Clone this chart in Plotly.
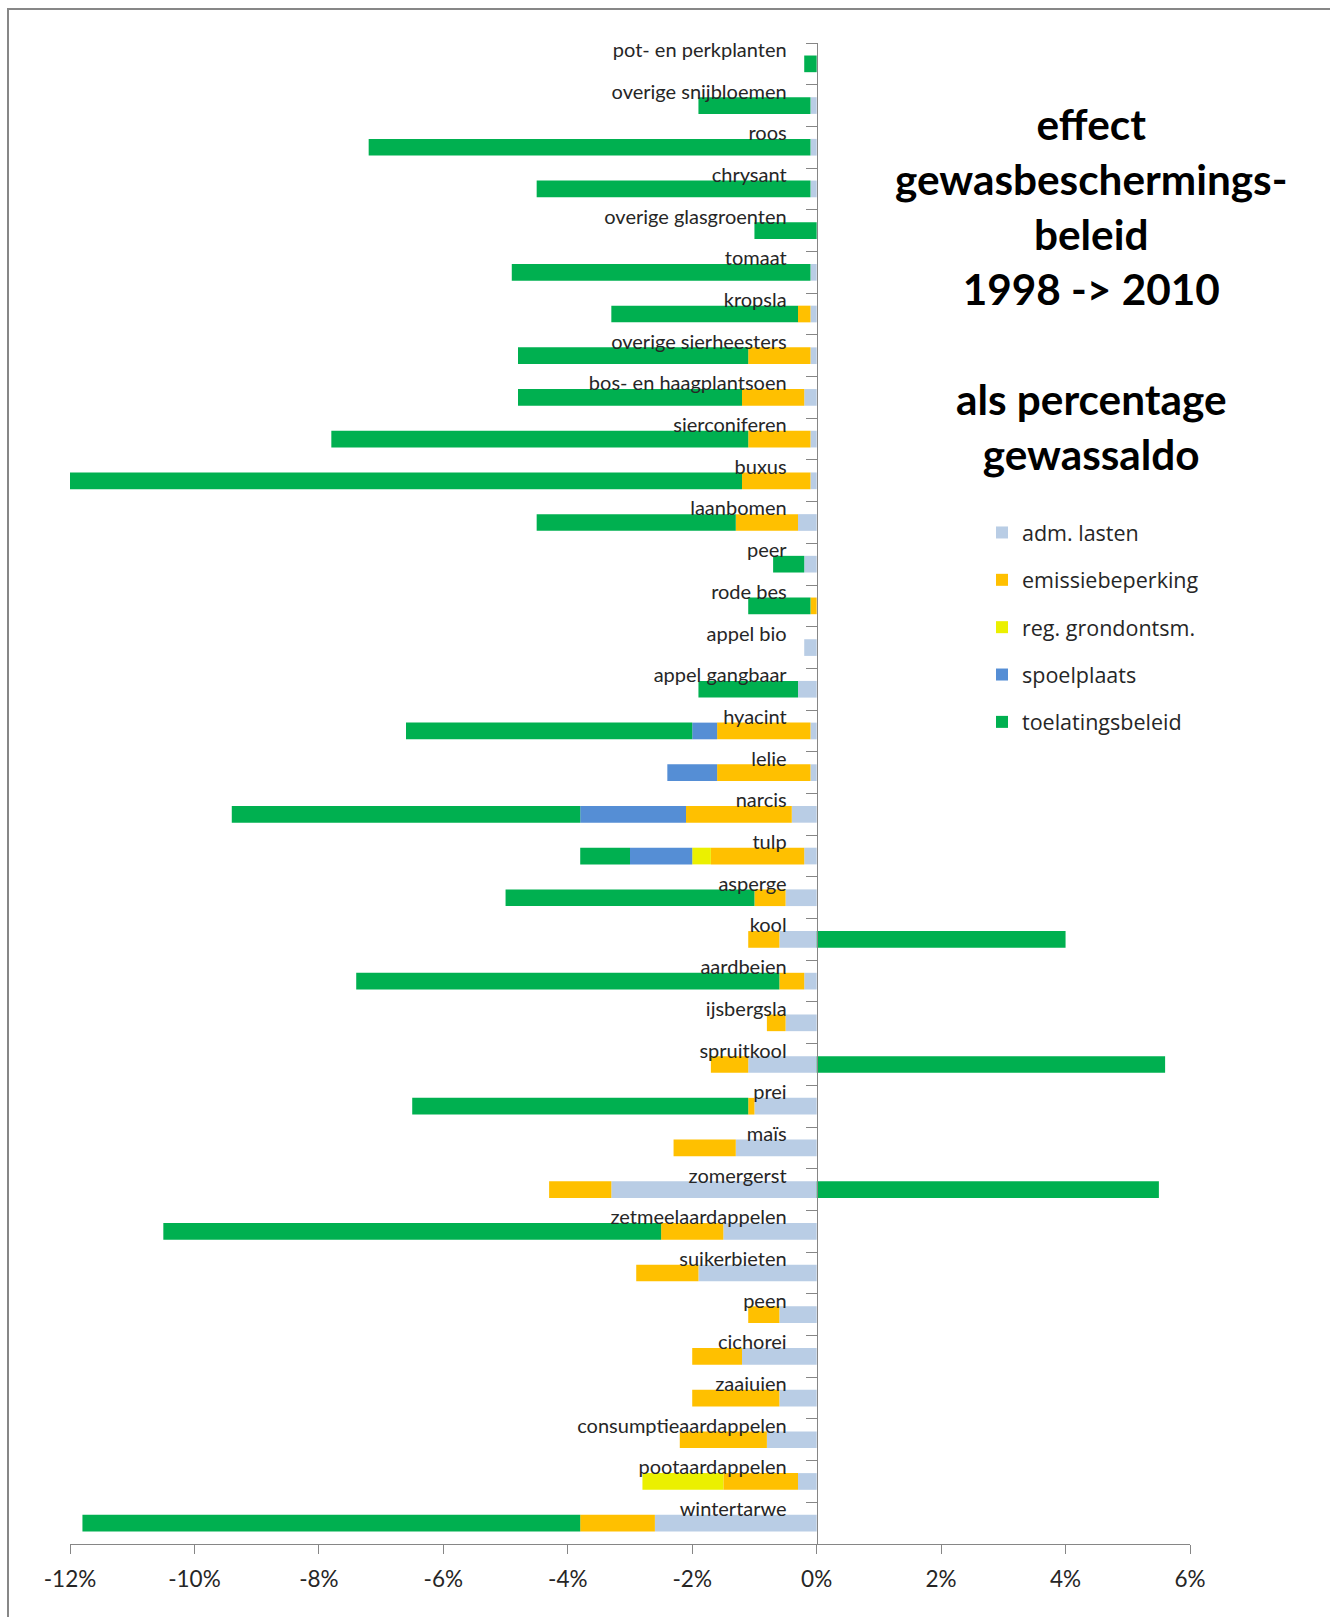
import plotly.graph_objects as go

# Gewassen, van boven naar beneden
gewassen = [
    "pot- en perkplanten", "overige snijbloemen", "roos", "chrysant",
    "overige glasgroenten", "tomaat", "kropsla", "overige sierheesters",
    "bos- en haagplantsoen", "sierconiferen", "buxus", "laanbomen", "peer",
    "rode bes", "appel bio", "appel gangbaar", "hyacint", "lelie", "narcis",
    "tulp", "asperge", "kool", "aardbeien", "ijsbergsla", "spruitkool", "prei",
    "maïs", "zomergerst", "zetmeelaardappelen", "suikerbieten", "peen",
    "cichorei", "zaaiuien", "consumptieaardappelen", "pootaardappelen",
    "wintertarwe",
]

# Effect per beleidsonderdeel, in % van het gewassaldo
adm_lasten = [
    0.0, -0.1, -0.1, -0.1, 0.0, -0.1, -0.1, -0.1, -0.2, -0.1, -0.1, -0.3, -0.2,
    0.0, -0.2, -0.3, -0.1, -0.1, -0.4, -0.2, -0.5, -0.6, -0.2, -0.5, -1.1, -1.0,
    -1.3, -3.3, -1.5, -1.9, -0.6, -1.2, -0.6, -0.8, -0.3, -2.6,
]
emissiebeperking = [
    0.0, 0.0, 0.0, 0.0, 0.0, 0.0, -0.2, -1.0, -1.0, -1.0, -1.1, -1.0, 0.0,
    -0.1, 0.0, 0.0, -1.5, -1.5, -1.7, -1.5, -0.5, -0.5, -0.4, -0.3, -0.6, -0.1,
    -1.0, -1.0, -1.0, -1.0, -0.5, -0.8, -1.4, -1.4, -1.2, -1.2,
]
reg_grondontsm = [
    0.0, 0.0, 0.0, 0.0, 0.0, 0.0, 0.0, 0.0, 0.0, 0.0, 0.0, 0.0, 0.0,
    0.0, 0.0, 0.0, 0.0, 0.0, 0.0, -0.3, 0.0, 0.0, 0.0, 0.0, 0.0, 0.0,
    0.0, 0.0, 0.0, 0.0, 0.0, 0.0, 0.0, 0.0, -1.3, 0.0,
]
spoelplaats = [
    0.0, 0.0, 0.0, 0.0, 0.0, 0.0, 0.0, 0.0, 0.0, 0.0, 0.0, 0.0, 0.0,
    0.0, 0.0, 0.0, -0.4, -0.8, -1.7, -1.0, 0.0, 0.0, 0.0, 0.0, 0.0, 0.0,
    0.0, 0.0, 0.0, 0.0, 0.0, 0.0, 0.0, 0.0, 0.0, 0.0,
]
toelatingsbeleid = [
    -0.2, -1.8, -7.1, -4.4, -1.0, -4.8, -3.0, -3.7, -3.6, -6.7, -10.8, -3.2,
    -0.5, -1.0, 0.0, -1.6, -4.6, 0.0, -5.6, -0.8, -4.0, 4.0, -6.8, 0.0, 5.6,
    -5.4, 0.0, 5.5, -8.0, 0.0, 0.0, 0.0, 0.0, 0.0, 0.0, -8.0,
]

x_tickvals = [-12, -10, -8, -6, -4, -2, 0, 2, 4, 6]
x_ticktext = ["-12%", "-10%", "-8%", "-6%", "-4%", "-2%", "0%", "2%", "4%", "6%"]

reeksen = [
    ("adm. lasten", adm_lasten, "#B9CDE5"),
    ("emissiebeperking", emissiebeperking, "#FFC000"),
    ("reg. grondontsm.", reg_grondontsm, "#EBF000"),
    ("spoelplaats", spoelplaats, "#558ED5"),
    ("toelatingsbeleid", toelatingsbeleid, "#00B050"),
]

W, H = 1330, 1617
ML, MR, MT, MB = 70, 140, 43, 73
PW, PH = W - ML - MR, H - MT - MB
X_MIN, X_MAX = -12, 6


def px(xpix):
    return (xpix - ML) / PW


def py(ypix):
    return 1 - (ypix - MT) / PH


fig = go.Figure()
for naam, waarden, kleur in reeksen:
    fig.add_trace(go.Bar(
        y=gewassen, x=waarden, name=naam, orientation="h",
        marker=dict(color=kleur, line=dict(width=0)),
        legendgroup=naam,
    ))

as_grijs = "#868686"

fig.update_layout(
    width=W, height=H,
    margin=dict(l=ML, r=MR, t=MT, b=MB, pad=0),
    paper_bgcolor="white", plot_bgcolor="white",
    barmode="relative", bargap=0.6,
    font=dict(family="Lato, sans-serif", color="#262626"),
    xaxis=dict(
        range=[X_MIN, X_MAX], tickvals=x_tickvals, ticktext=x_ticktext,
        showgrid=False, zeroline=False, showline=True, linecolor=as_grijs,
        linewidth=1, ticks="outside", ticklen=9, tickcolor=as_grijs,
        tickfont=dict(size=22.5, color="#262626"), ticklabelstandoff=6,
        fixedrange=True,
    ),
    yaxis=dict(
        type="category", categoryorder="array", categoryarray=gewassen,
        autorange="reversed", anchor="free",
        position=(0 - X_MIN) / (X_MAX - X_MIN),
        showgrid=False, zeroline=False, showline=True, linecolor=as_grijs,
        linewidth=1, ticks="outside", ticklen=11, tickcolor=as_grijs,
        tickson="boundaries", tickfont=dict(size=20, color="#262626"),
        ticklabelstandoff=26, ticklabelshift=14, fixedrange=True,
    ),
    legend=dict(
        x=px(982), y=py(512), xanchor="left", yanchor="top",
        traceorder="grouped", tracegroupgap=16.4,
        font=dict(family="Open Sans, sans-serif", size=21.5, color="#262626"),
        bgcolor="rgba(0,0,0,0)",
    ),
    showlegend=True,
)

fig.add_annotation(
    xref="paper", yref="paper", x=px(1091), y=py(289),
    xanchor="center", yanchor="middle", showarrow=False, align="center",
    text=("effect<br>gewasbeschermings-<br>beleid<br>1998 -&gt; 2010<br><br>"
          "als percentage<br>gewassaldo"),
    font=dict(family="Lato, sans-serif", size=42.3, color="black", weight="bold"),
)

# kader rond de grafiek
fig.add_shape(
    type="rect", xref="paper", yref="paper",
    x0=px(8), x1=px(1345), y0=py(1630), y1=py(9),
    line=dict(color="#878787", width=2), layer="below",
)

fig.write_html("out.html")
